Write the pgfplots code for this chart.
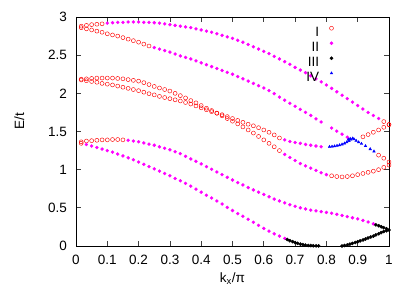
\documentclass[border=0pt]{standalone}
\usepackage{fontspec}
\setmainfont{Liberation Sans}
\usepackage{pgfplots}
\usepackage{pgfplotstable}
\pgfplotsset{compat=1.18}
\definecolor{gpred}{RGB}{255,0,0}
\definecolor{gpmag}{RGB}{255,0,255}
\definecolor{gpblue}{RGB}{0,0,255}
\definecolor{gpblack}{RGB}{0,0,0}
\pgfplotstableread{
x A B2 B C D E
0.0167 2.88 2.86 2.185 2.175 1.365 1.345
0.0333 2.89 2.845 2.19 2.165 1.375 1.33
0.05 2.90 2.83 2.195 2.155 1.38 1.31
0.0667 2.905 2.815 2.20 2.145 1.385 1.29
0.0833 2.91 2.80 2.20 2.13 1.39 1.27
0.1 2.92 2.78 2.20 2.12 1.39 1.25
0.1167 2.925 2.765 2.20 2.11 1.395 1.23
0.1333 2.93 2.75 2.195 2.095 1.395 1.205
0.15 2.93 2.73 2.19 2.08 1.39 1.18
0.1667 2.935 2.71 2.18 2.065 1.385 1.155
0.1833 2.935 2.69 2.17 2.05 1.375 1.13
0.2 2.935 2.67 2.16 2.035 1.365 1.10
0.2167 2.93 2.645 2.14 2.015 1.35 1.07
0.2333 2.93 2.62 2.115 1.995 1.335 1.04
0.25 2.925 2.60 2.09 1.98 1.32 1.01
0.2667 2.92 2.58 2.07 1.96 1.30 0.98
0.2833 2.91 2.56 2.05 1.945 1.28 0.95
0.3 2.90 2.54 2.03 1.93 1.26 0.92
0.3167 2.89 2.515 2.00 1.915 1.235 0.885
0.3333 2.88 2.49 1.97 1.90 1.21 0.855
0.35 2.87 2.47 1.94 1.88 1.175 0.82
0.3667 2.86 2.45 1.905 1.86 1.14 0.785
0.3833 2.845 2.425 1.875 1.835 1.11 0.745
0.4 2.83 2.40 1.84 1.81 1.075 0.705
0.4167 2.815 2.375 1.805 1.785 1.04 0.665
0.4333 2.80 2.35 1.775 1.76 1.005 0.63
0.45 2.78 2.325 1.74 1.74 0.97 0.59
0.4667 2.76 2.30 1.705 1.72 0.935 0.55
0.4833 2.74 2.275 1.67 1.695 0.90 0.505
0.5 2.72 2.25 1.635 1.67 0.865 0.465
0.5167 2.695 2.22 1.60 1.645 0.83 0.425
0.5333 2.67 2.19 1.56 1.62 0.80 0.39
0.55 2.64 2.16 1.52 1.595 0.765 0.35
0.5667 2.61 2.13 1.48 1.575 0.735 0.31
0.5833 2.58 2.10 1.435 1.55 0.705 0.27
0.6 2.55 2.07 1.39 1.52 0.675 0.23
0.6167 2.52 2.035 1.345 1.49 0.645 0.195
0.6333 2.485 1.995 1.30 1.455 0.615 0.16
0.65 2.45 1.95 1.25 1.415 0.59 0.13
0.6667 2.415 1.91 1.20 1.39 0.565 0.10
0.6833 2.38 1.87 1.16 1.37 0.54 nan
0.7 2.34 1.83 1.12 1.355 0.52 nan
0.7167 2.305 1.79 1.08 1.345 0.50 nan
0.7333 2.27 1.75 1.05 1.33 0.485 nan
0.75 2.23 1.71 1.02 1.32 0.47 nan
0.7667 2.19 1.665 0.99 1.31 0.46 nan
0.7833 2.15 1.625 0.96 1.30 0.45 nan
0.8 2.11 nan 0.935 nan 0.44 nan
0.8167 2.065 1.545 0.92 nan 0.43 nan
0.8333 2.02 1.505 0.91 nan 0.415 nan
0.85 1.975 1.465 0.905 nan 0.40 nan
0.8667 1.93 1.425 0.91 nan 0.385 nan
0.8833 1.885 nan 0.92 nan 0.37 nan
0.9 1.84 nan 0.935 nan 0.355 nan
0.9167 1.795 nan 0.95 1.43 0.335 nan
0.9333 1.75 nan 0.965 1.46 0.315 nan
0.95 1.71 nan 0.98 1.49 0.29 nan
0.9667 1.67 1.19 1.00 1.52 nan nan
0.9833 1.63 1.15 1.03 1.555 nan nan
1.0 1.59 1.10 1.06 1.59 nan nan
}\bands
\pgfplotsset{
  redc/.style={only marks, mark=o, mark size=2bp, color=gpred, mark options={line width=0.45bp, draw=gpred}},
  mag/.style={only marks, mark=*, mark size=1.5bp, color=gpmag, mark options={draw=gpmag, fill=gpmag}},
  blk/.style={only marks, mark=*, mark size=1.6bp, color=gpblack, mark options={draw=gpblack, fill=gpblack}},
  blu/.style={only marks, mark=triangle*, mark size=1.5bp, color=gpblue, mark options={draw=gpblue, fill=gpblue}},
}
\begin{document}
\fontsize{13.5bp}{16bp}\selectfont
\begin{tikzpicture}
\path[use as bounding box] (0,0) rectangle (415bp,291bp);
\begin{axis}[
  at={(76bp,45bp)}, anchor=south west,
  scale only axis, width=313bp, height=229bp,
  xmin=0, xmax=1, ymin=0, ymax=3,
  xtick={0,0.1,0.2,0.3,0.4,0.5,0.6,0.7,0.8,0.9,1},
  ytick={0,0.5,1,1.5,2,2.5,3},
  tick align=inside, major tick length=5bp,
  axis line style={line width=0.8bp},
  tick style={line width=0.8bp, black!75},
  /pgf/number format/assume math mode=true,
  tick label style={font=\fontsize{13.5bp}{16bp}\selectfont},
  yticklabel style={xshift=-4.5bp},
  xticklabel style={yshift=-4.5bp},
  xlabel={k\textsubscript{x}/π},
  ylabel={E/t},
  label style={font=\fontsize{13.5bp}{16bp}\selectfont},
  xlabel style={at={(axis description cs:0.5,-0.16)}, anchor=base},
  ylabel style={at={(axis description cs:-0.166,0.545)}, anchor=base},
  legend cell align=right, legend plot pos=right,
  legend image code/.code={\draw[#1] plot coordinates {(0bp,4.5bp)};},
  legend style={draw=none, fill=none, at={(0.8227,0.964)}, anchor=north east,
    inner sep=0pt, outer sep=0pt, row sep=0pt, column sep=10.5bp,
    nodes={inner sep=0pt, text height=11bp, text depth=4bp},
    font=\fontsize{13.5bp}{16bp}\selectfont},
]
\addlegendimage{redc}\addlegendentry{I}
\addlegendimage{mag}\addlegendentry{II}
\addlegendimage{blk}\addlegendentry{III}
\addlegendimage{blu}\addlegendentry{IV}
% red (I)
\addplot[redc, forget plot, restrict x to domain=0:0.09] table[x=x,y=A] {\bands};
\addplot[redc, forget plot, restrict x to domain=0.975:1.01] table[x=x,y=A] {\bands};
\addplot[redc, forget plot, restrict x to domain=0:0.24] table[x=x,y=B2] {\bands};
\addplot[redc, forget plot, restrict x to domain=0.96:1.01] table[x=x,y=B2] {\bands};
\addplot[redc, forget plot, restrict x to domain=0:0.66] table[x=x,y=B] {\bands};
\addplot[redc, forget plot, restrict x to domain=0.81:1.01] table[x=x,y=B] {\bands};
\addplot[redc, forget plot, restrict x to domain=0:0.66] table[x=x,y=C] {\bands};
\addplot[redc, forget plot, restrict x to domain=0.9:1.01] table[x=x,y=C] {\bands};
\addplot[redc, forget plot, restrict x to domain=0:0.16] table[x=x,y=D] {\bands};
\addplot[redc, forget plot, restrict x to domain=0:0.025] table[x=x,y=E] {\bands};
% magenta (II)
\addplot[mag, forget plot, restrict x to domain=0.09:0.975] table[x=x,y=A] {\bands};
\addplot[mag, forget plot, restrict x to domain=0.24:0.9] table[x=x,y=B2] {\bands};
\addplot[mag, forget plot, restrict x to domain=0.66:0.81] table[x=x,y=B] {\bands};
\addplot[mag, forget plot, restrict x to domain=0.66:0.8] table[x=x,y=C] {\bands};
\addplot[mag, forget plot, restrict x to domain=0.16:0.96] table[x=x,y=D] {\bands};
\addplot[mag, forget plot, restrict x to domain=0.025:0.7] table[x=x,y=E] {\bands};
% black (III)
\addplot[blk, forget plot] coordinates {
(0.675,0.085)(0.683,0.07)(0.692,0.057)(0.700,0.045)(0.708,0.035)(0.717,0.025)(0.725,0.018)
(0.733,0.012)(0.742,0.008)(0.750,0.005)(0.758,0.003)(0.767,0.002)(0.775,0.001)
(0.850,0.0)(0.858,0.006)(0.867,0.014)(0.875,0.024)(0.883,0.034)(0.892,0.045)(0.900,0.055)
(0.908,0.067)(0.917,0.08)(0.925,0.092)(0.933,0.105)(0.942,0.118)(0.950,0.13)(0.958,0.145)
(0.967,0.16)(0.975,0.175)(0.983,0.19)(0.992,0.20)(1.000,0.21)
(0.958,0.278)(0.967,0.265)(0.975,0.252)(0.983,0.24)(0.992,0.225)
};
% blue (IV)
\addplot[blu, forget plot] coordinates {
(0.810,1.300)(0.818,1.303)(0.826,1.308)(0.834,1.314)(0.842,1.322)(0.850,1.332)(0.858,1.345)
(0.865,1.360)(0.872,1.378)(0.878,1.395)(0.884,1.41)(0.870,1.395)(0.876,1.405)
(0.888,1.40)(0.895,1.38)(0.903,1.36)(0.912,1.34)(0.925,1.31)(0.940,1.27)(0.952,1.24)
};
\end{axis}
\end{tikzpicture}
\end{document}
